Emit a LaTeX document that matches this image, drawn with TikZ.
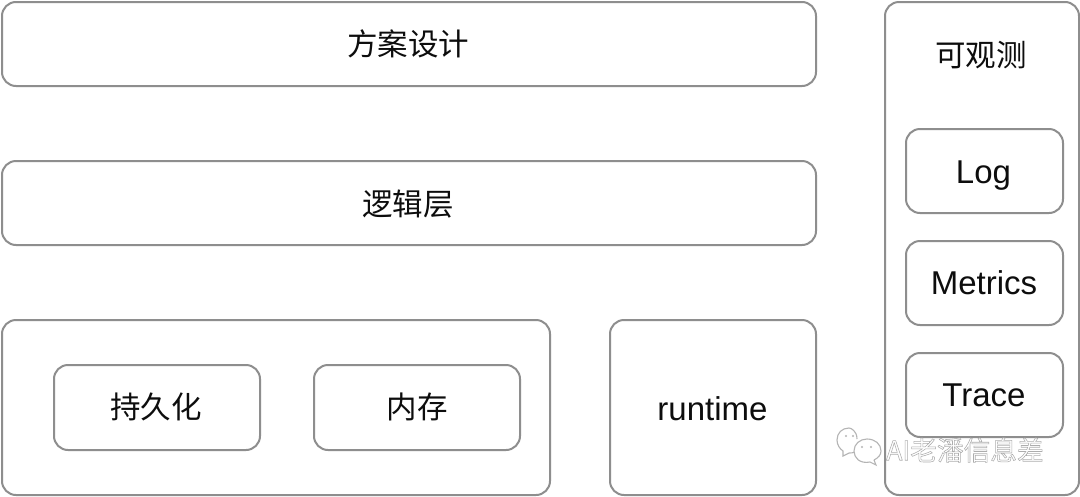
\documentclass[tikz,border=0pt]{standalone}
\usepackage{fontspec}
\setmainfont{Liberation Sans}
\newfontfamily\cjk{Noto Sans CJK SC}
\definecolor{edge}{HTML}{8E8E8E}
\definecolor{wm}{HTML}{B4B4B4}
\tikzset{
  box/.style={draw=edge,line width=2pt,rounded corners=14pt,fill=white,inner sep=0pt,anchor=north west},
  lab/.style={inner sep=0pt,text=black!95,font=\fontsize{33}{36}\selectfont},
  cjklab/.style={inner sep=0pt,text=black!95,font=\cjk\fontsize{30.5}{36}\selectfont},
  bubble/.style={draw=wm,line width=1.1pt,fill=white},
}
\newcommand{\hollow}[1]{\special{pdf:code q 1 Tr 0.55 w 0.68 G}#1\special{pdf:code Q}}
\begin{document}
\begin{tikzpicture}[x=1pt,y=-1pt]
\useasboundingbox (0,0) rectangle (1080,496);
\fill[white] (0,0) rectangle (1080,496);
% outer boxes
\node[box,minimum width=814pt,minimum height=84pt] (design) at (1,1) {};
\node[box,minimum width=814pt,minimum height=84pt] (logic) at (1,160) {};
\node[box,minimum width=548pt,minimum height=175pt] (store) at (1,319) {};
\node[box,minimum width=206pt,minimum height=175pt] (runtime) at (609,319) {};
\node[box,minimum width=194pt,minimum height=493pt] (obs) at (884,1) {};
% inner boxes
\node[box,minimum width=206pt,minimum height=85pt] (persist) at (53,364) {};
\node[box,minimum width=206pt,minimum height=85pt] (memory) at (313,364) {};
\node[box,minimum width=157pt,minimum height=84pt] (log) at (905,128) {};
\node[box,minimum width=157pt,minimum height=84pt] (metrics) at (905,240) {};
\node[box,minimum width=157pt,minimum height=84pt] (trace) at (905,352) {};
% labels
\node[cjklab] (t1) at (408,44) {方案设计};
\node[cjklab] (t2) at (408,204) {逻辑层};
\node[cjklab] (t3) at (156,407) {持久化};
\node[cjklab] (t4) at (417,407) {内存};
\node[lab] (t5) at (712.5,408.5) {runtime};
\node[cjklab] (t6) at (981,55) {可观测};
\node[lab] (t7) at (983.5,175.5) {Log};
\node[lab] (t8) at (984,283) {Metrics};
\node[lab] (t9) at (984,395.5) {Trace};
% watermark
\begin{scope}
  \draw[bubble] (857,439) .. controls (857,431) and (851,428) .. (849,428)
     .. controls (842,428) and (837,433) .. (837,440)
     .. controls (837,445) and (840,449) .. (843,451)
     -- (843,456) -- (849,453) .. controls (851,453) and (853,453) .. (855,452);
  \draw[bubble] (874,460) -- (876,465) -- (870,462)
     .. controls (860,464) and (854,458) .. (854,451)
     .. controls (854,444) and (860,439) .. (867,439)
     .. controls (875,439) and (881,444) .. (881,451)
     .. controls (881,455) and (878,458) .. (874,460);
  \fill[wm] (846,436) circle (1.1) (853,436) circle (1.1) (862,447) circle (1.1) (871,447) circle (1.1);
\end{scope}
\node[inner sep=0pt,anchor=west,font=\cjk\fontsize{26.7}{28}\selectfont] (wmark) at (886,450) {\hollow{AI老潘信息差}};
\end{tikzpicture}
\end{document}
